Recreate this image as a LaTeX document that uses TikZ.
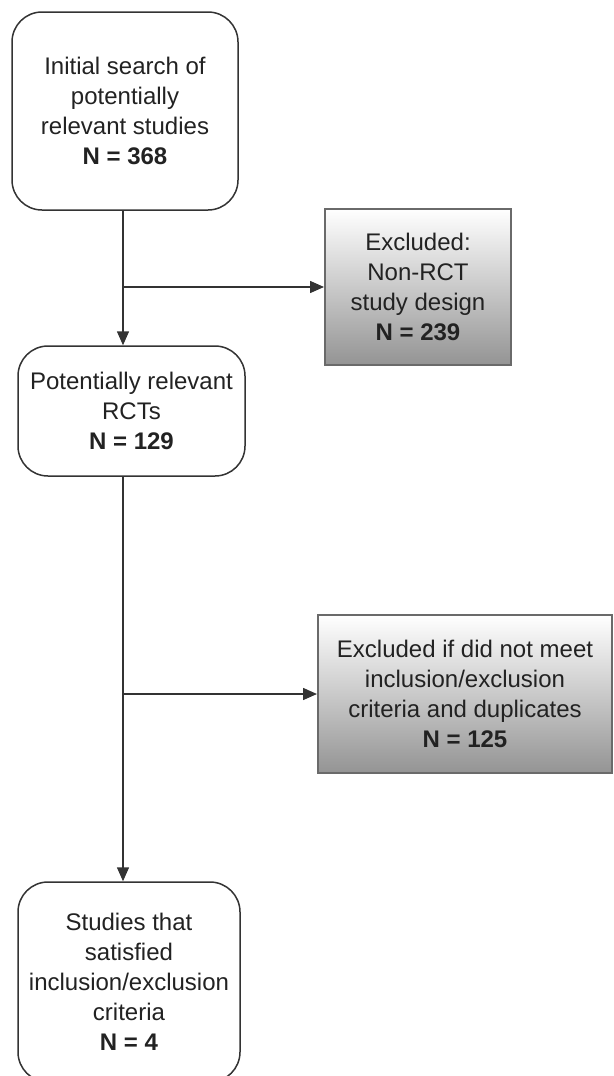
\documentclass[tikz,border=0pt]{standalone}
\usepackage{fontspec}
\setmainfont{Liberation Sans}
\usetikzlibrary{arrows.meta,shadings}
\definecolor{ink}{HTML}{222222}
\definecolor{edge}{HTML}{333333}
\definecolor{grayedge}{HTML}{6A6A6A}
\tikzset{
  roundbox/.style={draw=edge, line width=1.5pt, rounded corners=30pt, fill=white,
    align=center, text=ink, font=\fontsize{24}{30}\selectfont, inner sep=0pt},
  graybox/.style={draw=grayedge, line width=2pt, top color=white, bottom color=black!42,
    align=center, text=ink, font=\fontsize{24}{30}\selectfont, inner sep=0pt},
  conn/.style={draw=edge, line width=1.5pt},
  arr/.style={conn, -{Triangle[length=14pt,width=12pt]}},
}
\begin{document}
\begin{tikzpicture}[x=1pt,y=1pt]
\useasboundingbox (0,0) rectangle (613,-1076);
\node[roundbox, minimum width=226pt, minimum height=198pt] (b1) at (125,-111)
  {Initial search of\\potentially\\relevant studies\\\textbf{N = 368}};
\node[roundbox, minimum width=227pt, minimum height=130pt] (b2) at (131.5,-411)
  {Potentially relevant\\RCTs\\\textbf{N = 129}};
\node[roundbox, minimum width=222pt, minimum height=200pt] (b5) at (129,-982)
  {Studies that\\satisfied\\inclusion/exclusion\\criteria\\\textbf{N = 4}};
\node[graybox, minimum width=186pt, minimum height=156pt] (b3) at (418,-287)
  {Excluded:\\ Non-RCT\\study design\\\textbf{N = 239}};
\node[graybox, minimum width=294pt, minimum height=158pt] (b4) at (465,-694)
  {Excluded if did not meet\\inclusion/exclusion\\criteria and duplicates\\\textbf{N = 125}};
\coordinate (spine) at (123,0);
\draw[conn] (b1.south -| spine) -- (b3.west -| spine);
\draw[arr] (b3.west -| spine) -- (b3.west);
\draw[arr] (b3.west -| spine) -- (b2.north -| spine);
\draw[conn] (b2.south -| spine) -- (b4.west -| spine);
\draw[arr] (b4.west -| spine) -- (b4.west);
\draw[arr] (b4.west -| spine) -- (b5.north -| spine);
\end{tikzpicture}
\end{document}
